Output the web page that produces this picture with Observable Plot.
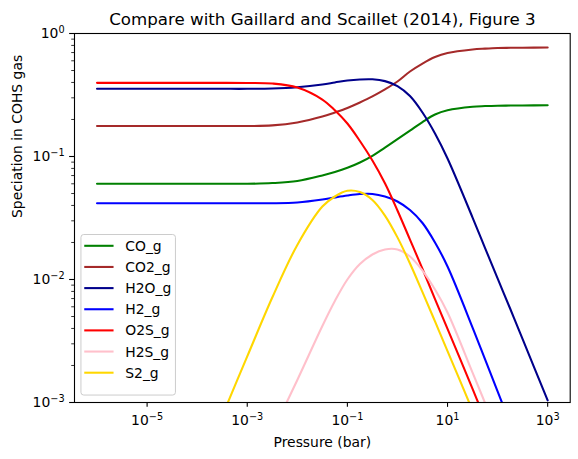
<!DOCTYPE html>
<html><head><meta charset="utf-8">
<script src="https://cdn.jsdelivr.net/npm/d3@7"></script>
<script src="https://cdn.jsdelivr.net/npm/@observablehq/plot@0.6"></script>
<style>body{margin:0;background:#fff;font-family:"DejaVu Sans",sans-serif}</style>
</head><body><div id="chart"></div>
<script>
// log10 of pressure (bar) at which values were read
const logP = [-6,-5,-4,-3.5,-3,-2.5,-2,-1.5,-1.25,-1,-0.75,-0.5,-0.25,0,0.25,0.5,0.75,1,1.5,1.75,2,2.25,2.5,3];
const species = ["CO_g","CO2_g","H2O_g","H2_g","O2S_g","H2S_g","S2_g"];
const colors  = ["#008000","#a52a2a","#00008b","#0000ff","#ff0000","#ffc0cb","#ffd700"];

const CO_g  = [0.060,0.060,0.060,0.060,0.060,0.0608,0.0632,0.0701,0.0748,0.0809,0.0894,0.1013,0.1183,0.1382,0.1621,0.1907,0.2196,0.2378,0.2541,0.257,0.2588,0.2594,0.260,0.261];
const CO2_g = [0.177,0.177,0.177,0.177,0.177,0.179,0.189,0.211,0.228,0.248,0.275,0.308,0.351,0.407,0.491,0.570,0.644,0.694,0.741,0.753,0.762,0.765,0.767,0.769];
const H2O_g = [0.355,0.355,0.355,0.355,0.355,0.357,0.366,0.385,0.400,0.415,0.423,0.424,0.410,0.374,0.310,0.228,0.154,0.0963,0.0319,0.0180,0.0102,0.00581,0.00327,0.00104];
const H2_g  = [0.0417,0.0417,0.0417,0.0417,0.0417,0.0417,0.0423,0.0447,0.0465,0.0482,0.0495,0.0496,0.0473,0.0431,0.0367,0.0288,0.0200,0.01275,0.00407,0.00224,0.00123,0.00068,null,null];
const O2S_g = [0.397,0.397,0.397,0.397,0.396,0.392,0.364,0.2905,0.2374,0.1854,0.1337,0.0928,0.0606,0.0364,0.0211,0.0122,0.00693,0.00397,0.00129,0.00073,null,null,null,null];
const H2S_g = [null,null,null,null,null,0.000572,0.001524,0.00419,0.00669,0.0100,0.01337,0.01597,0.01753,0.01753,0.01538,0.01183,0.00829,0.00539,0.00175,0.00099,0.00056,null,null,null];
const S2_g  = [null,null,null,0.000777,0.00237,0.00714,0.0191,0.0392,0.0473,0.0526,0.0514,0.0443,0.0331,0.0220,0.0135,0.0079,0.00456,0.00262,0.00086,null,null,null,null,null];
const seriesValues = [CO_g,CO2_g,H2O_g,H2_g,O2S_g,H2S_g,S2_g];

const xTicks = [1e-5,1e-3,1e-1,1e1,1e3];
const yTicks = [1e-3,1e-2,1e-1,1];
const yMinorTicks = [-3,-2,-1].flatMap(e => [2,3,4,5,6,7,8,9].map(m => m * 10 ** e));
const title = "Compare with Gaillard and Scaillet (2014), Figure 3";
const xLabel = "Pressure (bar)";
const yLabel = "Speciation in COHS gas";

const rows = [];
seriesValues.forEach((arr, i) => arr.forEach((v, j) => {
  if (v != null) rows.push({p: 10 ** logP[j], v, s: species[i]});
}));

const sup = {"-":"\u207B","0":"\u2070","1":"\u00B9","2":"\u00B2","3":"\u00B3","4":"\u2074","5":"\u2075","6":"\u2076","7":"\u2077","8":"\u2078","9":"\u2079"};
const unsup = Object.fromEntries(Object.entries(sup).map(([k, v]) => [v, k === "-" ? "\u2212" : k]));
const fmt = d => "10" + String(Math.round(Math.log10(d))).split("").map(c => sup[c]).join("");

const mL = 74, mR = 8.3, mT = 33, mB = 57, W = 578, H = 459;
const fs = 13.9;

const chart = Plot.plot({
  width: W, height: H,
  marginLeft: mL, marginRight: mR, marginTop: mT, marginBottom: mB,
  style: {fontFamily: "DejaVu Sans", fontSize: fs + "px", color: "black", background: "white", overflow: "visible"},
  x: {type: "log", domain: [10 ** -6.45, 10 ** 3.45], label: null},
  y: {type: "log", domain: [1e-3, 1], label: null},
  color: {domain: species, range: colors},
  marks: [
    Plot.line(rows, {x: "p", y: "v", z: "s", stroke: "s", strokeWidth: 2.08, curve: "catmull-rom", clip: true}),
    Plot.frame({stroke: "black", strokeWidth: 1.1}),
    Plot.axisX({ticks: xTicks, tickFormat: fmt, tickSize: 4.86, tickPadding: 8, label: null, fontSize: fs, strokeWidth: 1.1, className: "xmaj"}),
    Plot.axisY({ticks: yMinorTicks, tickFormat: () => "", tickSize: 2.78, label: null, strokeWidth: 0.8}),
    Plot.axisY({ticks: yTicks, tickFormat: fmt, tickSize: 4.86, tickPadding: 5, label: null, fontSize: fs, strokeWidth: 1.1, className: "ymaj"}),
    Plot.text([title], {text: d => d, frameAnchor: "top", lineAnchor: "bottom", dy: -8.3, fontSize: 16.67}),
    Plot.text([xLabel], {text: d => d, frameAnchor: "bottom", lineAnchor: "bottom", dy: 44.5, fontSize: fs}),
    Plot.text([yLabel], {text: d => d, frameAnchor: "left", dx: -57, rotate: -90, fontSize: fs})
  ]
});
document.getElementById("chart").appendChild(chart);

const svg = d3.select(chart);

// Render tick exponents as real raised text (mathtext-like)
svg.selectAll(".xmaj text, .ymaj text").each(function() {
  const t = d3.select(this);
  const s = t.text();
  if (!s.startsWith("10")) return;
  const exp = s.slice(2).split("").map(c => unsup[c] ?? c).join("");
  t.text("");
  t.append("tspan").text("10");
  t.append("tspan").attr("font-size", "70%").attr("dy", "-0.55em").text(exp);
});

// Legend (matplotlib-style, lower left inside axes)
const pad = 6.95;
const rowH = 21.15;
const boxW = 94.5;
const boxH = rowH * species.length + 12.5;
const bx = mL + pad, by = (H - mB) - pad - boxH;
const lg = svg.append("g").attr("text-anchor", "start");
lg.append("rect").attr("x", bx).attr("y", by).attr("width", boxW).attr("height", boxH)
  .attr("rx", 2.8).attr("fill", "white").attr("fill-opacity", 0.8)
  .attr("stroke", "#cccccc").attr("stroke-width", 1);
species.forEach((s, i) => {
  const cy = by + 11.3 + i * rowH;
  lg.append("line").attr("x1", bx + 3.3).attr("x2", bx + 32.6).attr("y1", cy).attr("y2", cy)
    .attr("stroke", colors[i]).attr("stroke-width", 2.08);
  lg.append("text").attr("x", bx + 44.3).attr("y", cy).attr("dy", "0.36em")
    .attr("text-anchor", "start")
    .attr("font-size", fs).attr("font-family", "DejaVu Sans").attr("fill", "black").text(s);
});
</script>
</body></html>
